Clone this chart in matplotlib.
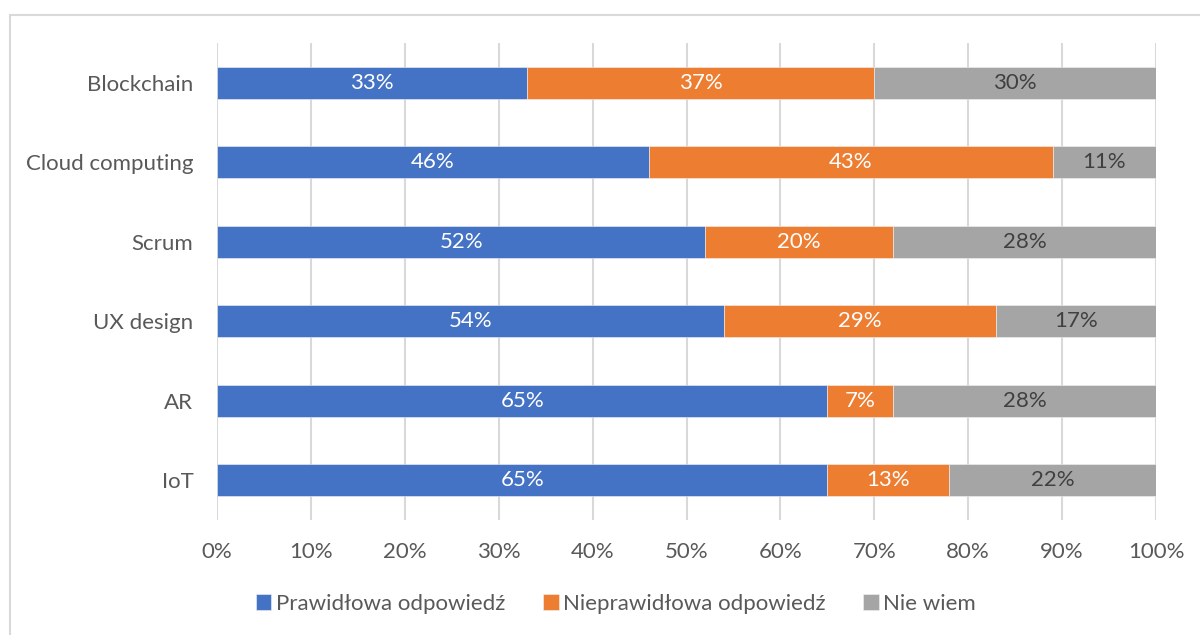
import matplotlib
matplotlib.use("Agg")
import matplotlib.pyplot as plt
from matplotlib.patches import Rectangle
from matplotlib.ticker import MultipleLocator, PercentFormatter

categories = ["Blockchain", "Cloud computing", "Scrum", "UX design", "AR", "IoT"]
correct = [33, 46, 52, 54, 65, 65]
incorrect = [37, 43, 20, 29, 7, 13]
dont_know = [30, 11, 28, 17, 28, 22]
series_names = ["Prawidłowa odpowiedź", "Nieprawidłowa odpowiedź", "Nie wiem"]

colors = ["#4472C4", "#ED7D31", "#A5A5A5"]
label_colors = ["white", "white", "#404040"]
text_color = "#595959"
grid_color = "#D9D9D9"

plt.rcParams["font.family"] = ["Lato", "DejaVu Sans"]
FS = 16

W, H = 1200, 635
fig = plt.figure(figsize=(W / 100, H / 100), dpi=100)
ax = fig.add_axes([217 / W, 1 - 520 / H, (1156 - 217) / W, (520 - 43) / H])

# outer chart frame
fig.patches.append(Rectangle((10 / W, -0.1), 1.2, 1 - 15 / H + 0.1,
                             transform=fig.transFigure, fill=False,
                             edgecolor="#D9D9D9", linewidth=1.5))

y = list(range(len(categories)))
left = [0] * len(categories)
for vals, name, c, lc in zip([correct, incorrect, dont_know], series_names, colors, label_colors):
    bars = ax.barh(y, vals, left=left, height=0.4, color=c, label=name, zorder=3,
                   edgecolor="#F2F2F2", linewidth=0.4)
    ax.bar_label(bars, labels=[f"{v}%" for v in vals], label_type="center",
                 color=lc, fontsize=FS)
    left = [l + v for l, v in zip(left, vals)]

ax.set_xlim(0, 100)
ax.set_ylim(len(categories) - 0.5, -0.5)
ax.set_yticks(y)
ax.set_yticklabels(categories)
ax.xaxis.set_major_locator(MultipleLocator(10))
ax.xaxis.set_major_formatter(PercentFormatter(decimals=0))
ax.tick_params(axis="both", length=0, labelsize=FS, colors=text_color)
ax.tick_params(axis="x", pad=16)
ax.tick_params(axis="y", pad=17)
ax.grid(axis="x", color=grid_color, linewidth=1.5, zorder=0)
for s in ax.spines.values():
    s.set_visible(False)

ax.legend(loc="center", bbox_to_anchor=(616 / W, 1 - 604 / H),
          bbox_transform=fig.transFigure, ncol=3, frameon=False,
          fontsize=FS, labelcolor=text_color, handlelength=0.7, handleheight=0.7,
          handletextpad=0.2, columnspacing=1.7)

fig.savefig("out.png", dpi=100)
